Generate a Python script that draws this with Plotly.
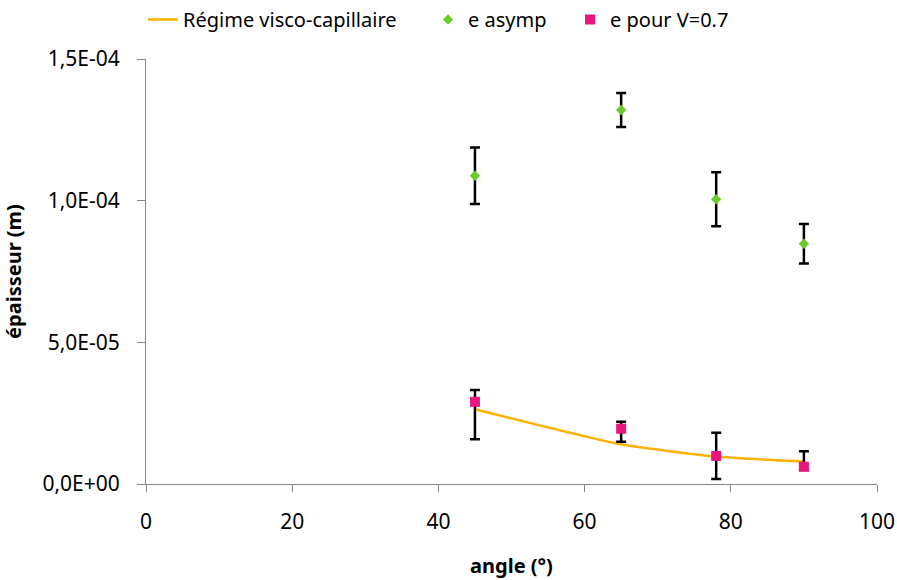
import plotly.graph_objects as go

# Angles (degrees)
angles = [45, 65, 78, 90]

# Asymptotic thickness and its uncertainty (m)
e_asymp = [1.088e-4, 1.320e-4, 1.005e-4, 0.848e-4]
e_asymp_err = [1.0e-5, 6.0e-6, 9.5e-6, 7.0e-6]

# Thickness at V=0.7 with asymmetric uncertainty (m)
e_v07 = [2.90e-5, 1.95e-5, 0.99e-5, 0.61e-5]
e_v07_err_plus = [4.2e-6, 2.5e-6, 8.2e-6, 5.5e-6]
e_v07_err_minus = [1.32e-5, 4.6e-6, 8.1e-6, 1.2e-6]

# Visco-capillary regime model (m)
regime = [2.64e-5, 1.40e-5, 0.97e-5, 0.79e-5]

# Axis ticks
y_ticks = [0, 5e-5, 1e-4, 1.5e-4]
y_tick_labels = ["0,0E+00", "5,0E-05", "1,0E-04", "1,5E-04"]
x_ticks = [0, 20, 40, 60, 80, 100]

FONT = "Noto Sans"
AXIS_GREY = "#868686"
W, H = 897, 580

fig = go.Figure()

fig.add_trace(go.Scatter(
    x=angles, y=regime, mode="lines", name="Régime visco-capillaire",
    line=dict(color="#FFB000", width=2.5, shape="spline", smoothing=0.6),
    legend="legend",
))

fig.add_trace(go.Scatter(
    x=angles, y=e_asymp, mode="markers", name="e asymp",
    marker=dict(symbol="diamond", size=8, color="#6CCB2C"),
    error_y=dict(type="data", array=e_asymp_err, color="black",
                 thickness=2.5, width=5),
    legend="legend2",
))

fig.add_trace(go.Scatter(
    x=angles, y=e_v07, mode="markers", name="e pour V=0.7",
    marker=dict(symbol="square", size=10, color="#E8157F"),
    error_y=dict(type="data", symmetric=False, array=e_v07_err_plus,
                 arrayminus=e_v07_err_minus, color="black",
                 thickness=2.5, width=5),
    legend="legend3",
))


def legend_box(x_px):
    return dict(
        x=x_px / W, xanchor="left", xref="container",
        y=1.0, yanchor="top", yref="container",
        orientation="h", itemwidth=30,
        font=dict(family=FONT, size=20, color="black"),
        bgcolor="rgba(0,0,0,0)",
    )


fig.update_layout(
    width=W, height=H,
    margin=dict(l=146, r=20, t=59, b=96),
    paper_bgcolor="white", plot_bgcolor="white",
    font=dict(family=FONT, size=15, color="black"),
    showlegend=True,
    legend=legend_box(143),
    legend2=legend_box(428),
    legend3=legend_box(570),
    xaxis=dict(
        range=[0, 100], tickvals=x_ticks, showgrid=False, zeroline=False,
        showline=True, linecolor=AXIS_GREY, linewidth=1,
        ticks="outside", ticklen=7, tickcolor=AXIS_GREY,
        ticklabelstandoff=12, automargin=False,
        tickfont=dict(family=FONT, size=21),
        title=dict(text="<b>angle (°)</b>", font=dict(family=FONT, size=20),
                   standoff=24),
    ),
    yaxis=dict(
        range=[0, 1.5e-4], tickvals=y_ticks, ticktext=y_tick_labels,
        showgrid=False, zeroline=False,
        showline=True, linecolor=AXIS_GREY, linewidth=1,
        ticks="outside", ticklen=8, tickcolor=AXIS_GREY,
        ticklabelstandoff=13, automargin=False,
        tickfont=dict(family=FONT, size=21),
        title=dict(text="<b>épaisseur (m)</b>", font=dict(family=FONT, size=20),
                   standoff=18),
    ),
)

fig.write_html("out.html")
